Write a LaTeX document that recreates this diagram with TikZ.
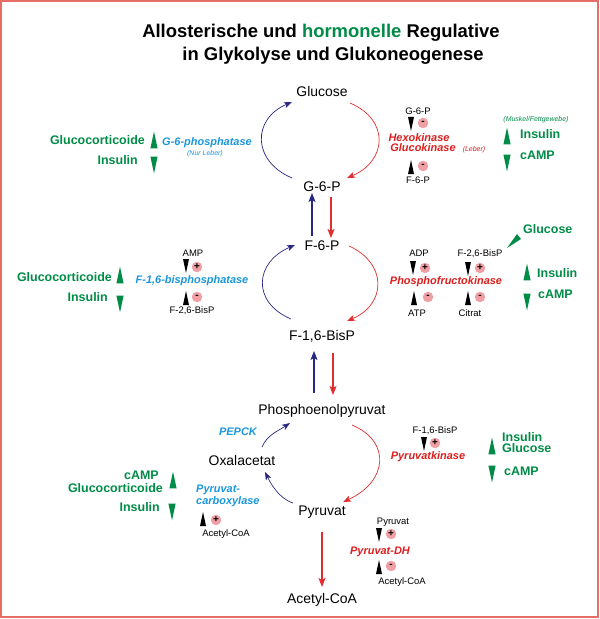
\documentclass[tikz,border=0pt]{standalone}
\usepackage{fontspec}
\setmainfont{Liberation Sans}
\usetikzlibrary{arrows.meta, calc}
\definecolor{hgreen}{RGB}{0,140,70}
\definecolor{eblue}{RGB}{25,150,220}
\definecolor{ered}{RGB}{220,30,30}
\definecolor{ablue}{RGB}{40,40,130}
\definecolor{ared}{RGB}{225,45,45}
\definecolor{spink}{RGB}{240,160,165}
\definecolor{framecol}{RGB}{230,110,100}
\tikzset{headline/.style={font=\fontsize{18.5}{21}\selectfont\bfseries, inner sep=0},
  met/.style={font=\fontsize{14}{16}\selectfont, inner sep=1bp},
  hormone/.style={font=\fontsize{12.5}{13}\selectfont\bfseries, text=hgreen, inner sep=0},
  enzr/.style={font=\fontsize{11}{12}\selectfont\bfseries\itshape, text=ered, inner sep=0},
  enzb/.style={font=\fontsize{11}{12}\selectfont\bfseries\itshape, text=eblue, inner sep=0},
  eff/.style={font=\fontsize{9.5}{10}\selectfont, inner sep=0},
  sgn/.style={circle, fill=spink, inner sep=0, minimum size=10.5bp, font=\fontsize{10}{10}\selectfont\bfseries},
  note/.style={font=\fontsize{7}{8}\selectfont\itshape, inner sep=0},
  glyarc/.style={ared, line width=0.7bp, -{Stealth[length=8bp,width=6bp,inset=2bp]}},
  gluarc/.style={ablue, line width=0.7bp, -{Stealth[length=8bp,width=6bp,inset=2bp]}},
  glyvert/.style={ared, line width=1.1bp, -{Stealth[length=9bp,width=7bp,inset=2bp]}},
  gluvert/.style={ablue, line width=1.1bp, -{Stealth[length=9bp,width=7bp,inset=2bp]}},
  tridn/.pic={\fill (-3,-7) -- (3,-7) -- (0,7) -- cycle;},
  triup/.pic={\fill (-3,7) -- (3,7) -- (0,-7) -- cycle;}}

\begin{document}
\begin{tikzpicture}[x=1bp, y=-1bp]
  \useasboundingbox (0,0) rectangle (600,619);
  \draw[framecol, line width=1.3bp] (1,1) rectangle (598,617);
  % Titel
  \node[headline] (t1) at (321,33) {Allosterische und \textcolor{hgreen}{hormonelle} Regulative};
  \node[headline] (t2) at (333,56) {in Glykolyse und Glukoneogenese};
  % Metabolite
  \foreach \nm/\x/\y/\txt in {glc/322/92/Glucose, g6p/322/187/G-6-P, f6p/322/246/F-6-P,
      f16bp/322/336/{F-1,6-BisP}, pep/322/411/Phosphoenolpyruvat, oaa/242/461/Oxalacetat,
      pyr/322/512/Pyruvat, acoa/322/600/Acetyl-CoA}
    \node[met] (\nm) at (\x,\y) {\txt};
  % Zyklen
  \draw[gluarc] ($(g6p)+(-30,-9)$) .. controls +(-40,-17) and +(-40,17) .. ($(glc)+(-30,10)$);
  \draw[glyarc] ($(glc)+(28,11)$) .. controls +(40,17) and +(40,-17) .. ($(g6p)+(25,-9)$);
  \draw[gluarc] ($(f16bp)+(-31,-17)$) .. controls +(-40,-17) and +(-40,17) .. ($(f6p)+(-27,-1)$);
  \draw[glyarc] ($(f6p)+(27,0)$) .. controls +(38,17) and +(40,-17) .. ($(f16bp)+(25,-15)$);
  \draw[glyarc] ($(pep)+(30,14)$) .. controls +(40,17) and +(44,-20) .. ($(pyr)+(21,-10)$);
  \draw[gluarc] ($(pyr)+(-29,-9)$) .. controls +(-15,-5) and +(5,10) .. ($(oaa)+(23,11)$);
  \draw[gluarc] ($(oaa)+(20,-14)$) .. controls +(5,-12) and +(-12,8) .. ($(pep)+(-32,12)$);
  \draw[gluvert] ($(f6p)+(-10,-10)$) -- ($(g6p)+(-10,6)$);
  \draw[glyvert] ($(g6p)+(9,10)$) -- ($(f6p)+(9,-8)$);
  \draw[gluvert] ($(pep)+(-8,-18)$) -- ($(f16bp)+(-8,15)$);
  \draw[glyvert] ($(f16bp)+(11,17)$) -- ($(pep)+(11,-16)$);
  \draw[glyvert] ($(pyr)+(0,20)$) -- ($(acoa)+(0,-13)$);
  % Enzyme
  \node[enzb] (g6pase) at (207,143) {G-6-phosphatase};
  \node[note, text=eblue] (g6pnote) at (205,154) {(Nur Leber)};
  \node[enzr] (hk) at (419,138) {Hexokinase};
  \node[enzr] (gk) at (423,148) {Glucokinase};
  \node[note, text=ered] (gknote) at (474,150) {(Leber)};
  \node[enzb] (fbpase) at (192,281) {F-1,6-bisphosphatase};
  \node[enzr] (pfk) at (446,282) {Phosphofructokinase};
  \node[enzb] (pepck) at (238,432) {PEPCK};
  \node[enzb, align=left, anchor=west] (pc) at (196,496) {Pyruvat-\\carboxylase};
  \node[enzr] (pk) at (428,457) {Pyruvatkinase};
  \node[enzr] (pdh) at (380,552) {Pyruvat-DH};
  % Effektoren
  \foreach \nm/\x/\y/\txt in {e1/418/111/G-6-P, e2/418/180/F-6-P, e3/193/253/AMP,
      e4/192/311/{F-2,6-BisP}, e5/419/253/ADP, e6/417/313/ATP, e7/480/254/{F-2,6-BisP},
      e8/470/313/Citrat, e9/435/431/{F-1,6-BisP}, e10/393/522/Pyruvat,
      e11/402/582/Acetyl-CoA, e12/226/534/Acetyl-CoA}
    \node[eff] (\nm) at (\x,\y) {\txt};
  \foreach \nm/\x/\y/\s in {s1/423/123/-, s2/423/166/-, s3/197/267/+, s4/197/297/-,
      s5/425/268/+, s6/428/297/-, s7/480/268/+, s8/480/297/-, s9/435/443/+,
      s10/391/534/+, s11/391/566/-, s12/216/520/+}
    \node[sgn] (\nm) at (\x,\y) {\s};
  \foreach \x/\y in {411/124, 186/266, 413/268, 468/269, 424/444, 379/535}
    \pic at (\x,\y) {tridn};
  \foreach \x/\y in {411/167, 186/298, 414/298, 468/298, 379/567, 203/519}
    \pic at (\x,\y) {triup};
  % Hormone
  \foreach \nm/\x/\y/\txt in {h1/145/140/Glucocorticoide, h2/138/160/Insulin,
      h3/112/277/Glucocorticoide, h4/108/297/Insulin, h5/159/475/cAMP,
      h6/163/488/Glucocorticoide, h7/160/507/Insulin}
    \node[hormone, anchor=east] (\nm) at (\x,\y) {\txt};
  \foreach \nm/\x/\y/\txt in {h8/520/134/Insulin, h9/520/155/cAMP, h10/523/229/Glucose,
      h11/537/273/Insulin, h12/538/294/cAMP, h13/502/437/Insulin, h14/502/448/Glucose,
      h15/504/471/cAMP}
    \node[hormone, anchor=west] (\nm) at (\x,\y) {\txt};
  \node[note, text=hgreen] (musk) at (536,120) {(Muskel/Fettgewebe)};
  \fill[hgreen] ($(h10.west)+(-16,19)$) -- ($(h10.west)+(-6,5)$) -- ($(h10.west)+(-2,10)$) -- cycle;
  \foreach \x/\y in {154/140, 507/136, 120/275, 527/272, 173/480, 492/446}
    \pic[fill=hgreen, scale=1.2] at (\x,\y) {triup};
  \foreach \x/\y in {154/165, 507/163, 120/304, 527/302, 172/512, 492/474}
    \pic[fill=hgreen, scale=1.2] at (\x,\y) {tridn};
\end{tikzpicture}
\end{document}
